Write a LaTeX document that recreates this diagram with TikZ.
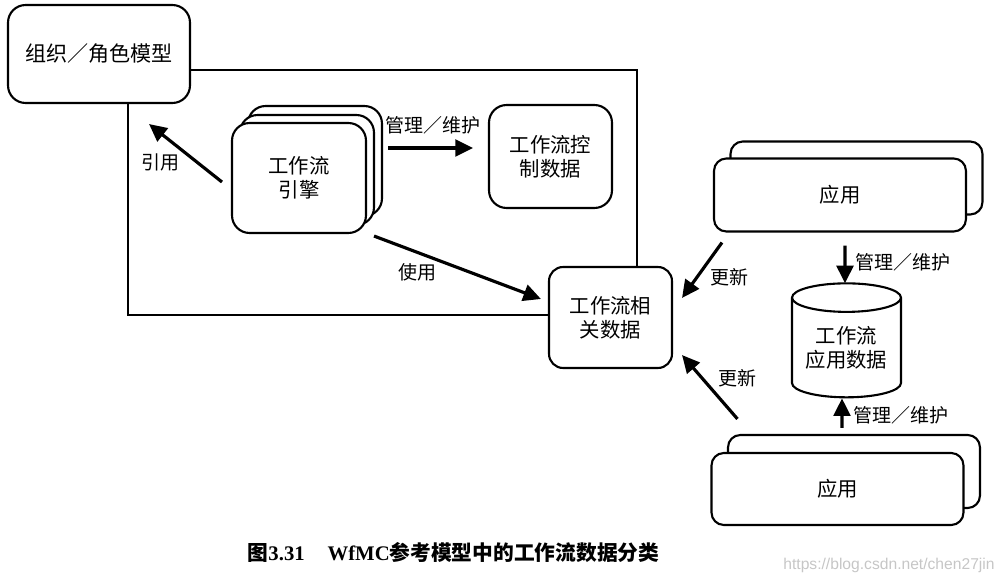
\documentclass[tikz,border=0pt]{standalone}
\usepackage{fontspec}
\setmainfont{Liberation Serif}
\newfontfamily\cjk{Noto Sans CJK SC}
\newfontfamily\wmfont{Liberation Sans}
\usepackage{tikz}
\usetikzlibrary{positioning,arrows.meta,shapes.geometric}

\tikzset{
  databox/.style={draw, line width=1.2pt, rounded corners=10pt, fill=white, align=center,
    inner sep=0pt, font=\cjk\fontsize{11.6}{13.5}\selectfont},
  appbox/.style={databox, rounded corners=7pt, minimum width=5.04cm, minimum height=1.46cm},
  enginebox/.style={databox, minimum width=2.68cm, minimum height=2.2cm},
  flow/.style={line width=1.8pt, -{Triangle[length=10pt,width=9.5pt]}},
  lbl/.style={font=\cjk\fontsize{10.8}{12}\selectfont, inner sep=0pt},
}

\begin{document}
\begin{tikzpicture}[x=0.02cm,y=-0.02cm]
\useasboundingbox (0,0) rectangle (1005,584);

% frame round the engine part
\draw[line width=1pt] (128,70) rectangle (637,315);

\node[databox, minimum width=3.64cm, minimum height=1.96cm,
  font=\cjk\fontsize{12}{14}\selectfont] (org) at (99,54) {组织／角色模型};

% engine, stacked
\node[enginebox] (engine3) at (315,161) {};
\node[enginebox] (engine2) at (307,170) {};
\node[enginebox] (engine) at (299,178) {工作流\\引擎};

\node[databox, minimum width=2.46cm, minimum height=2.06cm] (ctrl) at (550.5,156.5) {工作流控\\制数据};
\node[databox, rounded corners=8pt, minimum width=2.46cm, minimum height=2.02cm] (rel) at (610.5,317.5) {工作流相\\关数据};

% applications
\node[appbox] (appA2) at (856.5,178) {};
\node[appbox] (appA) at (840,195) {应用};
\node[appbox] (appB2) at (854,471.5) {};
\node[appbox, minimum height=1.44cm] (appB) at (837.5,489) {应用};

% database
\node[draw, line width=1.2pt, cylinder, shape border rotate=90, aspect=0.35, align=center,
  minimum width=2.18cm, minimum height=2.28cm, inner sep=0pt,
  font=\cjk\fontsize{11.6}{13.5}\selectfont] (cyl) at (846.5,348) {工作流\\应用数据};

% connectors
\draw[flow] ([shift={(-9,4)}]engine.west) -- ([shift={(-42,20)}]org.south east);
\node[lbl] (citelbl) at (160,162) {引用};

\draw[flow] ([shift={(5,-13)}]engine3.east) -- ([shift={(-15,-8.5)}]ctrl.west);
\node[lbl] (mgrlbl) at (433,125) {管理／维护};

\draw[flow] ([shift={(7,2)}]engine.south east) -- ([shift={(-7,-18.5)}]rel.west);
\node[lbl] (uselbl) at (417,272) {使用};

\draw[flow] ([shift={(9,10)}]appA.south west) -- ([shift={(9,32)}]rel.north east);
\node[lbl] (updlblA) at (729,277) {更新};

\draw[flow] ([shift={(27,-33)}]appB.north west) -- ([shift={(9,-14)}]rel.south east);
\node[lbl] (updlblB) at (737,378) {更新};

\draw[flow] ([shift={(5,13)}]appA.south) -- ([shift={(-1.5,1)}]cyl.north);
\node[lbl] (mgrlblA) at (903,262) {管理／维护};

\draw[flow] ([shift={(4.5,-24)}]appB.north) -- ([shift={(-4.5,0)}]cyl.south);
\node[lbl] (mgrlblB) at (901,415) {管理／维护};

% caption and mark
\node[font=\fontsize{11.8}{14}\selectfont\bfseries] (caption) at (453.5,553)
  {{\cjk 图}3.31\hspace{1.1em}WfMC{\cjk 参考模型中的工作流数据分类}};
\node[font=\wmfont\fontsize{8.9}{10}\selectfont, text=gray!45] (mark) at (889,565)
  {https://blog.csdn.net/chen27jin};
\end{tikzpicture}
\end{document}
